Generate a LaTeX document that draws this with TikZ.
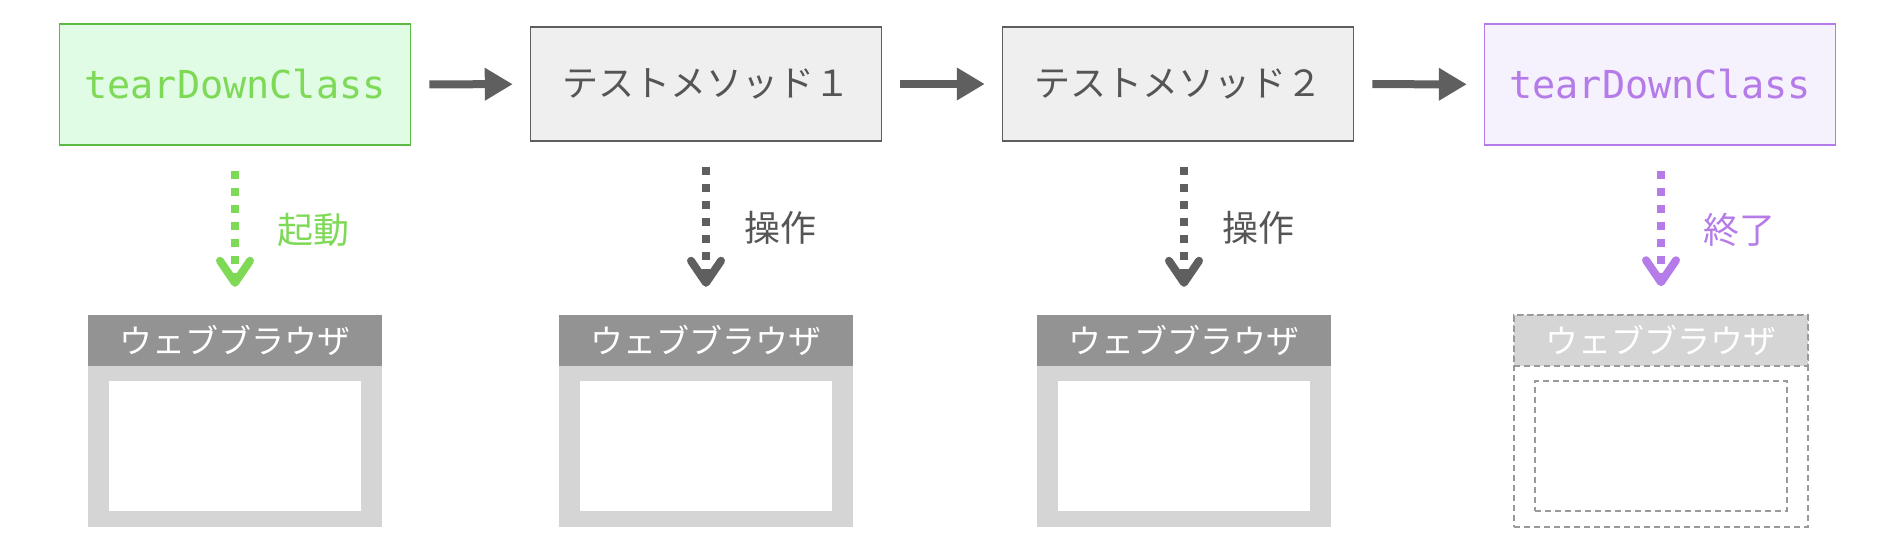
\documentclass[tikz,border=0pt]{standalone}
\usepackage{fontspec}
\setmonofont{DejaVu Sans Mono}
\newfontfamily\jpfont{Noto Sans CJK JP}
\usetikzlibrary{arrows.meta, positioning}

\definecolor{upfill}{HTML}{E0FCE5}
\definecolor{upline}{HTML}{5CB944}
\definecolor{uptext}{HTML}{7ED957}
\definecolor{downfill}{HTML}{F5F1FD}
\definecolor{downline}{HTML}{B57BE8}
\definecolor{testfill}{HTML}{EFEFEF}
\definecolor{testline}{HTML}{5F5F5F}
\definecolor{testtext}{HTML}{555555}
\definecolor{barcol}{HTML}{939393}
\definecolor{framecol}{HTML}{D5D5D5}
\definecolor{ghostline}{HTML}{9A9A9A}

\begin{document}
\begin{tikzpicture}[x=1pt, y=-1pt,
    box/.style={draw, line width=1.5pt, minimum width=351pt, inner sep=0pt},
    monotext/.style={font=\ttfamily\fontsize{38.5pt}{40pt}\selectfont},
    jptext/.style={font=\jpfont\fontsize{36pt}{40pt}\selectfont},
    flow/.style={line width=8pt, draw=testline, -{Triangle[length=28pt,width=31pt]},
        shorten <=18pt, shorten >=17pt},
    opflow/.style={line width=8pt, dash pattern=on 8pt off 9pt,
        -{Straight Barb[length=22pt,width=30pt,round]}, shorten <=25pt, shorten >=28pt},
    oplabel/.style={font=\jpfont\fontsize{36pt}{40pt}\selectfont, inner sep=0pt},
    frame/.style={fill=framecol, minimum width=294pt, minimum height=212pt, inner sep=0pt},
    titlebar/.style={fill=barcol, text=white, minimum width=294pt, minimum height=51pt,
        inner sep=0pt, anchor=north, font=\jpfont\fontsize{33pt}{36pt}\selectfont},
    screen/.style={fill=white, minimum width=252pt, minimum height=130pt, inner sep=0pt},
    ghost/.style={draw=ghostline, line width=1.5pt, dash pattern=on 6pt off 4pt}]
\useasboundingbox (0,0) rectangle (1894,552);

% upper row
\node[box, minimum height=121pt, fill=upfill, draw=upline, text=uptext, monotext] (b1) at (235,84.5) {tearDownClass};
\node[box, minimum height=114pt, fill=testfill, draw=testline, text=testtext, jptext] (b2) at (706,84) {テストメソッド１};
\node[box, minimum height=114pt, fill=testfill, draw=testline, text=testtext, jptext] (b3) at (1178,84) {テストメソッド２};
\node[box, minimum height=121pt, fill=downfill, draw=downline, text=downline, monotext] (b4) at (1660,84.5) {tearDownClass};

\draw[flow] (b1) -- (b2);
\draw[flow] (b2) -- (b3);
\draw[flow] (b3) -- (b4);

% browsers
\node[frame] (w1) at (235,421) {};
\node[titlebar] (t1) at (w1.north) {ウェブブラウザ};
\node[screen] (s1) at ([yshift=-25pt]w1.center) {};

\node[frame] (w2) at (706,421) {};
\node[titlebar] (t2) at (w2.north) {ウェブブラウザ};
\node[screen] (s2) at ([yshift=-25pt]w2.center) {};

\node[frame] (w3) at (1184,421) {};
\node[titlebar] (t3) at (w3.north) {ウェブブラウザ};
\node[screen] (s3) at ([yshift=-25pt]w3.center) {};

\node[frame, fill=none, ghost] (w4) at (1661,421) {};
\node[titlebar, fill=framecol, ghost] (t4) at (w4.north) {ウェブブラウザ};
\node[screen, fill=none, ghost] (s4) at ([yshift=-25pt]w4.center) {};

% what happens to the browser
\draw[opflow, draw=uptext] (b1.south -| w1.north) -- node[right=38pt, oplabel, text=uptext]{起動} (w1.north);
\draw[opflow, draw=testline] (b2.south -| w2.north) -- node[right=34pt, oplabel, text=testtext]{操作} (w2.north);
\draw[opflow, draw=testline] (b3.south -| w3.north) -- node[right=34pt, oplabel, text=testtext]{操作} (w3.north);
\draw[opflow, draw=downline] (b4.south -| w4.north) -- node[right=38pt, oplabel, text=downline]{終了} (w4.north);
\end{tikzpicture}
\end{document}
